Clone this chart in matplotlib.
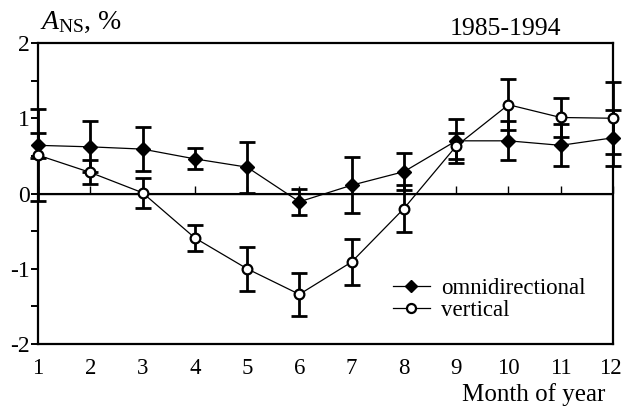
import matplotlib
matplotlib.use("Agg")
import matplotlib.pyplot as plt
import matplotlib.transforms as mtransforms
from matplotlib.lines import Line2D
from matplotlib.ticker import NullFormatter

# Monthly north-south anisotropy, 1985-1994
months = [1, 2, 3, 4, 5, 6, 7, 8, 9, 10, 11, 12]
omni = [0.64, 0.62, 0.59, 0.46, 0.35, -0.11, 0.11, 0.29, 0.70, 0.70, 0.64, 0.74]
omni_err = [0.17, 0.34, 0.29, 0.14, 0.34, 0.17, 0.37, 0.25, 0.29, 0.26, 0.28, 0.37]
vert = [0.51, 0.28, 0.01, -0.59, -1.00, -1.34, -0.91, -0.20, 0.63, 1.18, 1.01, 1.00]
vert_err = [0.61, 0.16, 0.20, 0.17, 0.29, 0.29, 0.31, 0.31, 0.17, 0.34, 0.26, 0.48]
ytick_vals = [-2, -1, 0, 1, 2]
ytick_text = ["-2", "-1", "0", "1", "2"]

plt.rcParams["font.family"] = ["Liberation Serif", "DejaVu Serif"]
plt.rcParams["mathtext.fontset"] = "custom"
plt.rcParams["mathtext.rm"] = "Liberation Serif"
plt.rcParams["mathtext.it"] = "Liberation Serif:italic"

fig = plt.figure(figsize=(6.22, 4.08), dpi=100)
ax = fig.add_axes([38 / 622, 1 - 344 / 408, 575 / 622, 301 / 408])
ax.set_xlim(1, 12)
ax.set_ylim(-2, 2)

for sp in ax.spines.values():
    sp.set_linewidth(1.6)

# zero line acting as the month axis
ax.axhline(0, color="black", lw=1.0, zorder=1)
sec = ax.secondary_xaxis(0.5)
sec.spines["bottom"].set_visible(False)
sec.set_xticks(months)
sec.xaxis.set_major_formatter(NullFormatter())
sec.tick_params(axis="x", direction="out", length=5, width=1.0)

ax.set_xticks(months)
ax.set_xticklabels([str(m) for m in months])
ax.tick_params(axis="x", length=0, pad=10, labelsize=16.5)
# keep the last month label inside the figure edge
last = ax.get_xticklabels()[-1]
last.set_transform(last.get_transform() +
                   mtransforms.ScaledTranslation(-3 / 100, 0, fig.dpi_scale_trans))

ax.set_yticks(ytick_vals)
ax.set_yticklabels(ytick_text)
ax.set_yticks([-1.5, -0.5, 0.5, 1.5], minor=True)
ax.tick_params(axis="y", which="both", direction="out", length=5, width=1.4,
               pad=1, labelsize=17)

eb_kw = dict(fmt="none", ecolor="black", elinewidth=2.0, capsize=5.5,
             capthick=2.0, clip_on=False, zorder=2)
e1 = ax.errorbar(months, omni, yerr=omni_err, **eb_kw)
e2 = ax.errorbar(months, vert, yerr=vert_err, **eb_kw)
for e in (e1, e2):
    for c in e[1]:
        c.set_clip_on(False)
    for b in e[2]:
        b.set_clip_on(False)

ax.plot(months, omni, color="black", lw=0.9, marker="D", ms=7,
        mfc="black", mec="black", clip_on=False, zorder=3)
ax.plot(months, vert, color="black", lw=0.9, marker="o", ms=7,
        mfc="white", mec="black", mew=1.6, clip_on=False, zorder=4)

handles = [
    Line2D([], [], color="black", lw=0.9, marker="D", ms=6, mfc="black", mec="black"),
    Line2D([], [], color="black", lw=0.9, marker="o", ms=6.5, mfc="white",
           mec="black", mew=1.6),
]
ax.legend(handles, ["omnidirectional", "vertical"], loc="upper left",
          bbox_to_anchor=((393 - 38) / 575, (344 - 278) / 301), frameon=False,
          borderpad=0, borderaxespad=0, handlelength=1.6, handletextpad=0.5,
          labelspacing=0.05, fontsize=16.5)

fig.text(40 / 622, 1 - 29 / 408, r"$\mathit{A}_{\mathrm{NS}}$, %", fontsize=20,
         ha="left", va="baseline")
fig.text(450 / 622, 1 - 35 / 408, "1985-1994", fontsize=18.5, ha="left",
         va="baseline")
fig.text(605 / 622, 1 - 401 / 408, "Month of year", fontsize=18, ha="right",
         va="baseline")

fig.savefig("out.png", dpi=100)
